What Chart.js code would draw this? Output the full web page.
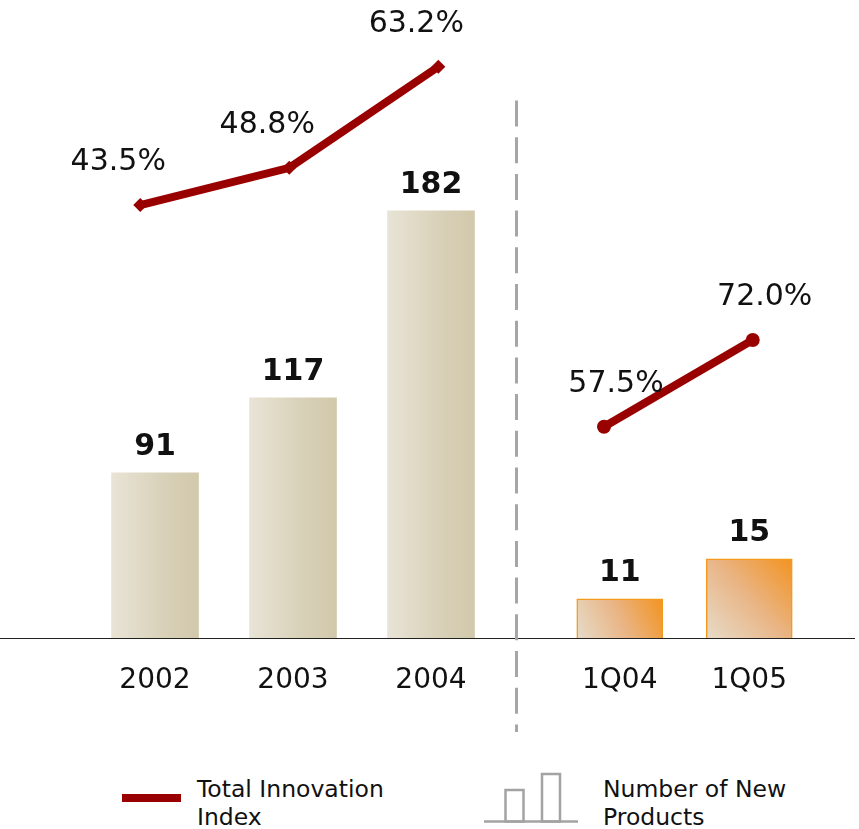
<!DOCTYPE html>
<html>
<head>
<meta charset="UTF-8">
<title>Total Innovation Index / Number of New Products</title>
<script src="https://cdn.jsdelivr.net/npm/chart.js"></script>
<style>
    body { margin: 0; background: #fff; font-family: "DejaVu Sans", Verdana, sans-serif; color: #111; }
    #wrap { position: relative; width: 859px; height: 829px; }
    #annualChart { position: absolute; left: 0; top: 0; }
    #quarterChart { position: absolute; left: 510px; top: 0; }
    .legend-line { position: absolute; left: 122px; top: 794px; width: 59px; height: 8px; background: #990000; }
    .legend-text { position: absolute; font-size: 23.5px; line-height: 28px; color: #111; }
    .legend-icon { position: absolute; left: 483px; top: 770px; }
</style>
</head>
<body>
<div id="wrap">
    <canvas id="annualChart" width="510" height="740"></canvas>
    <canvas id="quarterChart" width="349" height="740"></canvas>

    <!-- Legend -->
    <div class="legend-line"></div>
    <div class="legend-text" style="left:197px; top:775px;">Total Innovation<br>Index</div>
    <svg class="legend-icon" width="100" height="56">
        <line x1="1" y1="51.5" x2="95" y2="51.5" stroke="#a3a3a3" stroke-width="2.5"/>
        <rect x="22.5" y="20" width="18" height="31.5" fill="none" stroke="#a3a3a3" stroke-width="2.5"/>
        <rect x="59" y="4" width="18" height="47.5" fill="none" stroke="#a3a3a3" stroke-width="2.5"/>
    </svg>
    <div class="legend-text" style="left:603px; top:775px;">Number of New<br>Products</div>
</div>

<script>
    // Data
    const annualLabels = ['2002', '2003', '2004'];
    const annualProducts = [91, 117, 182];
    const annualIndex = [43.5, 48.8, 63.2];

    const quarterLabels = ['1Q04', '1Q05'];
    const quarterProducts = [11, 15];
    const quarterIndex = [57.5, 72.0];

    const FONT = '"DejaVu Sans", Verdana, sans-serif';
    const RED = '#990000';

    // Beige bars, light on the left, darker to the right
    function beigeFill(c) {
        const chart = c.chart;
        if (!chart.chartArea) return '#ddd6c2';
        const x = chart.scales.x.getPixelForValue(c.dataIndex);
        const g = chart.ctx.createLinearGradient(x - 44, 0, x + 44, 0);
        g.addColorStop(0, '#e8e4d6');
        g.addColorStop(0.65, '#d7cfb6');
        g.addColorStop(1, '#d2c9ac');
        return g;
    }

    // Orange bars, beige at bottom-left to orange at top-right
    function orangeFill(c) {
        const chart = c.chart;
        if (!chart.chartArea) return '#eeb070';
        const x = chart.scales.x.getPixelForValue(c.dataIndex);
        const top = chart.scales.y.getPixelForValue(c.raw);
        const bottom = chart.chartArea.bottom;
        const g = chart.ctx.createLinearGradient(x - 43, bottom, x + 43, top);
        g.addColorStop(0, '#e6dcc9');
        g.addColorStop(0.5, '#e9b586');
        g.addColorStop(1, '#f39320');
        return g;
    }

    // Value labels over bars and line points
    const valueLabels = {
        id: 'valueLabels',
        afterDatasetsDraw(chart) {
            const ctx = chart.ctx;
            chart.data.datasets.forEach((ds, i) => {
                const meta = chart.getDatasetMeta(i);
                ctx.save();
                ctx.fillStyle = '#111';
                ctx.textAlign = 'center';
                ctx.textBaseline = 'alphabetic';
                meta.data.forEach((el, j) => {
                    if (ds.type === 'line') {
                        ctx.font = '30px ' + FONT;
                        ctx.fillText(ds.data[j].y.toFixed(1) + '%', el.x + ds.labelDx, el.y - 35);
                    } else {
                        ctx.font = 'bold 30px ' + FONT;
                        ctx.fillText(String(ds.data[j]), el.x, el.y - 18);
                    }
                });
                ctx.restore();
            });
        }
    };

    // Baseline across the whole width, plus the dashed divider
    const baseLine = {
        id: 'baseLine',
        afterDraw(chart, args, opts) {
            const { ctx, chartArea } = chart;
            ctx.save();
            ctx.strokeStyle = '#222';
            ctx.lineWidth = 1;
            ctx.beginPath();
            ctx.moveTo(0, chartArea.bottom);
            ctx.lineTo(opts.end, chartArea.bottom);
            ctx.stroke();
            if (opts.divider != null) {
                ctx.strokeStyle = '#a6a6a6';
                ctx.lineWidth = 3;
                ctx.setLineDash([26, 10.7]);
                ctx.beginPath();
                ctx.moveTo(opts.divider, 100.5);
                ctx.lineTo(opts.divider, 732);
                ctx.stroke();
            }
            ctx.restore();
        }
    };

    function makeChart(canvasId, labels, products, index, cfg) {
        return new Chart(document.getElementById(canvasId), {
            type: 'bar',
            data: {
                labels: labels,
                datasets: [
                    {
                        type: 'line',
                        label: 'Total Innovation Index',
                        data: index.map((v, i) => ({ x: i, y: v })),
                        xAxisID: 'xl',
                        yAxisID: 'yl',
                        borderColor: RED,
                        borderWidth: 8,
                        pointStyle: cfg.pointStyle,
                        pointRadius: 7,
                        pointBorderWidth: 0,
                        pointBackgroundColor: RED,
                        tension: 0,
                        labelDx: cfg.labelDx,
                        order: 0
                    },
                    {
                        type: 'bar',
                        label: 'Number of New Products',
                        data: products,
                        xAxisID: 'x',
                        yAxisID: 'y',
                        grouped: false,
                        backgroundColor: cfg.fill,
                        borderColor: cfg.barBorder,
                        borderWidth: cfg.barBorderWidth,
                        borderSkipped: false,
                        barThickness: cfg.barThickness,
                        order: 1
                    }
                ]
            },
            options: {
                responsive: false,
                animation: false,
                layout: { padding: { top: 10, left: cfg.padLeft, right: cfg.padRight, bottom: 0 } },
                plugins: {
                    legend: { display: false },
                    tooltip: { enabled: false },
                    baseLine: { end: cfg.lineEnd, divider: cfg.divider }
                },
                scales: {
                    x: {
                        type: 'category',
                        offset: true,
                        grid: { display: false, drawTicks: false },
                        border: { display: false },
                        ticks: { color: '#111', font: { family: FONT, size: 28 }, padding: 25, maxRotation: 0 },
                        afterFit(s) { s.height = 101.5; }
                    },
                    xl: { type: 'linear', display: false, offset: false, min: cfg.xlMin, max: cfg.xlMax },
                    y: { display: false, min: cfg.yMin, max: cfg.yMax },
                    yl: { display: false, min: cfg.ylMin, max: cfg.ylMax }
                }
            },
            plugins: [valueLabels, baseLine]
        });
    }

    makeChart('annualChart', annualLabels, annualProducts, annualIndex, {
        padLeft: 86, padRight: 10,
        fill: beigeFill, barBorder: 'rgba(0,0,0,0)', barBorderWidth: 0, barThickness: 87,
        pointStyle: 'rectRot', labelDx: -22,
        xlMin: -0.364, xlMax: 2.414,
        yMin: 33.4, yMax: 251.8,
        ylMin: -18.25, ylMax: 71.28,
        lineEnd: 510, divider: null
    });

    makeChart('quarterChart', quarterLabels, quarterProducts, quarterIndex, {
        padLeft: 45, padRight: 45,
        fill: orangeFill, barBorder: '#f39a1e', barBorderWidth: 1.5, barThickness: 86,
        pointStyle: 'circle', labelDx: 12,
        xlMin: -0.3295, xlMax: 1.412,
        yMin: 7.03, yMax: 69.88,
        ylMin: 22.08, ylMax: 127.2,
        lineEnd: 345, divider: 6.5
    });
</script>
</body>
</html>
